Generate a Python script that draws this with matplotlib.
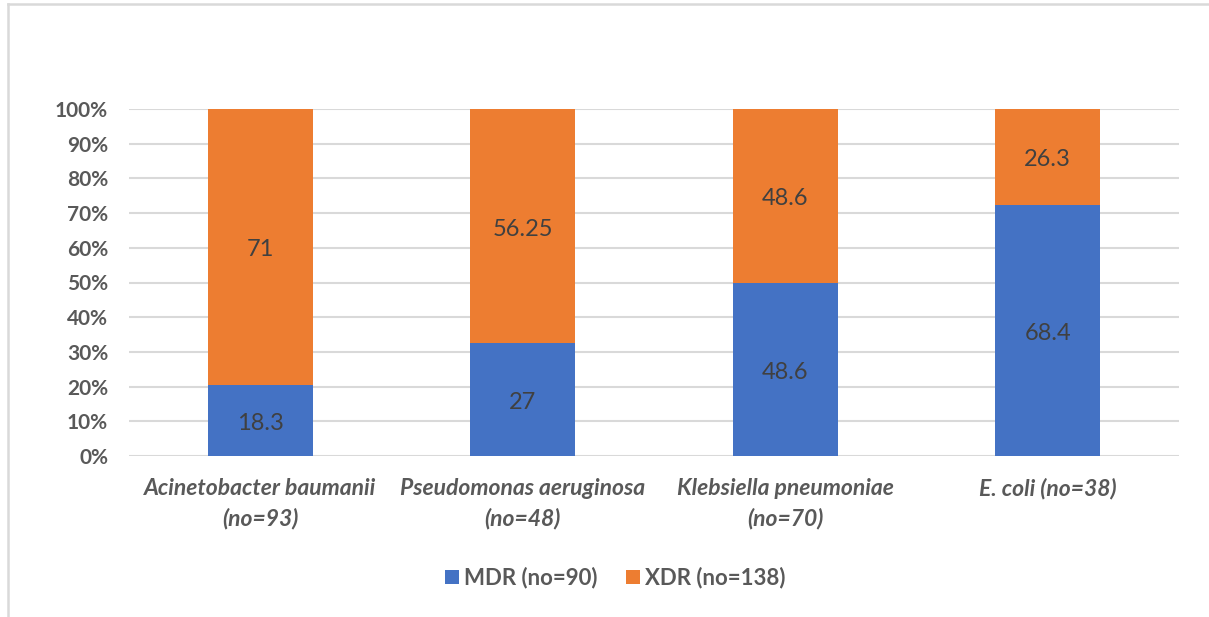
import matplotlib
matplotlib.use("Agg")
import matplotlib.pyplot as plt
from matplotlib.lines import Line2D
from matplotlib.ticker import PercentFormatter
import numpy as np

categories = ["Acinetobacter baumanii\n(no=93)", "Pseudomonas aeruginosa\n(no=48)",
              "Klebsiella pneumoniae\n(no=70)", "E. coli (no=38)"]
mdr = [18.3, 27, 48.6, 68.4]
xdr = [71, 56.25, 48.6, 26.3]
mdr_labels = ["18.3", "27", "48.6", "68.4"]
xdr_labels = ["71", "56.25", "48.6", "26.3"]
series_names = ["MDR (no=90)", "XDR (no=138)"]

blue = "#4472C4"
orange = "#ED7D31"
grid_c = "#D9D9D9"
text_c = "#595959"
lab_c = "#404040"

fig = plt.figure(figsize=(12.09, 6.17), dpi=100)
ax = fig.add_axes([129/1209, 1-456/617, (1179-129)/1209, (456-109)/617])

mdr_a = np.array(mdr); xdr_a = np.array(xdr)
tot = mdr_a + xdr_a
mdr_p = mdr_a / tot * 100
xdr_p = xdr_a / tot * 100
x = np.arange(len(categories))
w = 0.4
ax.bar(x, mdr_p, w, color=blue, label=series_names[0], zorder=3)
ax.bar(x, xdr_p, w, bottom=mdr_p, color=orange, label=series_names[1], zorder=3)

for i in range(len(x)):
    ax.text(x[i], mdr_p[i]/2 - 0.8, mdr_labels[i], ha="center", va="center",
            fontsize=17, color=lab_c, family="Lato", zorder=4)
    ax.text(x[i], mdr_p[i] + xdr_p[i]/2 - 0.8, xdr_labels[i], ha="center", va="center",
            fontsize=17, color=lab_c, family="Lato", zorder=4)

ax.set_xlim(-0.5, len(x) - 0.5)
ax.set_ylim(0, 100)
ax.set_yticks(np.arange(0, 101, 10))
ax.yaxis.set_major_formatter(PercentFormatter(decimals=0))
ax.grid(axis="y", color=grid_c, linewidth=1.5, zorder=0)
for s in ax.spines.values():
    s.set_visible(False)
ax.tick_params(axis="y", length=0, pad=15, labelsize=15, labelcolor=text_c)
ax.tick_params(axis="x", length=0, pad=16, labelsize=16.5, labelcolor=text_c)
for t in ax.get_yticklabels():
    t.set_fontfamily("Lato"); t.set_fontweight("bold")
ax.set_xticks(x)
ax.set_xticklabels(categories, fontfamily="Lato", fontweight="bold", fontstyle="italic",
                   linespacing=1.5)

leg = fig.legend(loc="center", bbox_to_anchor=(615/1209, 1-578/617), ncol=2, frameon=False,
                 prop={"family": "Lato", "size": 16, "weight": "bold"}, handlelength=0.65,
                 handleheight=0.65, handletextpad=0.2, columnspacing=1.3)
for t in leg.get_texts():
    t.set_color(text_c)

# outer frame (left and top)
fig.add_artist(Line2D([8/1209, 8/1209], [0, 1-4/617], color=grid_c, linewidth=1.8))
fig.add_artist(Line2D([8/1209, 1], [1-4/617, 1-4/617], color=grid_c, linewidth=1.8))

fig.savefig("out.png", dpi=100, facecolor="white")
